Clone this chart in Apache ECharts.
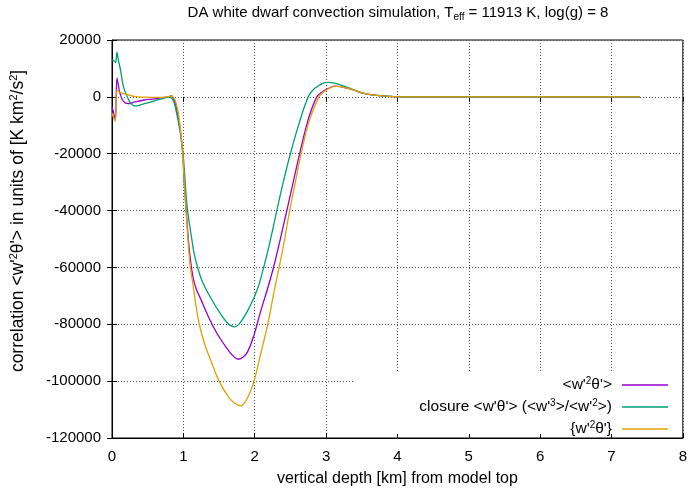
<!DOCTYPE html>
<html><head><meta charset="utf-8">
<script src="https://cdn.jsdelivr.net/npm/echarts@6/dist/echarts.min.js"></script>
<style>html,body{margin:0;padding:0;background:#fff}#c{width:690px;height:492px}</style>
</head><body><div id="c"></div>
<script>
// x ticks and y ticks
const xTicks = [0,1,2,3,4,5,6,7,8];
const yTicks = [20000,0,-20000,-40000,-60000,-80000,-100000,-120000];
const seriesNames = ["<w'2θ'>", "closure <w'θ'> (<w'3>/<w'2>)", "{w'2θ'}"];

// <w'^2 theta'>
const depthPurple = [0,0.025,0.046,0.07,0.09,0.11,0.16,0.23,0.32,0.45,0.56,0.7,0.79,0.83,0.86,0.89,0.92,0.95,0.99,1.01,1.04,1.08,1.11,1.14,1.18,1.25,1.34,1.46,1.62,1.7,1.77,1.84,1.9,1.99,2.08,2.18,2.27,2.35,2.45,2.54,2.63,2.75,2.87,2.95,3.02,3.12,3.2,3.35,3.5,3.65,3.8,3.95,4.1,5,6,7,7.4];
const valuePurple = [-3400,-6000,-8000,6600,4000,1400,-1600,-2400,-1800,-1100,-800,-300,0,400,-500,-2500,-6000,-10500,-19600,-29000,-40000,-53000,-59500,-64000,-67500,-71500,-76700,-82700,-88800,-91200,-92300,-91500,-89700,-83800,-75700,-67500,-59400,-51000,-40000,-30000,-20000,-8000,0,1800,2800,3800,3600,2700,1400,700,350,100,0,0,0,0,0];

// closure
const depthGreen = [0,0.03,0.05,0.07,0.09,0.12,0.16,0.21,0.26,0.32,0.4,0.5,0.65,0.8,0.84,0.87,0.9,0.95,0.99,1.02,1.05,1.1,1.15,1.2,1.27,1.39,1.53,1.63,1.71,1.8,1.94,2.04,2.11,2.2,2.31,2.4,2.5,2.62,2.75,2.82,2.9,2.97,3.03,3.1,3.2,3.35,3.5,3.65,3.8,3.95,4.1,5,6,7,7.4];
const valueGreen = [13000,12600,12100,15600,12800,9400,3600,200,-2200,-3200,-2800,-2100,-1000,-200,-500,-2000,-5000,-11500,-18500,-28000,-38000,-47000,-55000,-60000,-65200,-71000,-76700,-79800,-80900,-79300,-73300,-67500,-61500,-52500,-40000,-30000,-20000,-9500,0,2500,4000,4900,5100,4900,4200,2800,1400,700,300,100,0,0,0,0,0];

// {w'^2 theta'}
const depthOrange = [0,0.025,0.046,0.07,0.1,0.15,0.23,0.32,0.45,0.6,0.75,0.8,0.83,0.86,0.89,0.92,0.95,0.99,1.01,1.04,1.07,1.09,1.11,1.13,1.16,1.2,1.25,1.32,1.41,1.5,1.64,1.72,1.8,1.9,1.99,2.08,2.18,2.27,2.35,2.42,2.49,2.57,2.65,2.77,2.9,2.97,3.03,3.12,3.2,3.35,3.5,3.65,3.8,3.95,4.1,5,6,7,7.4];
const valueOrange = [-5600,-7500,-8600,2400,1800,1200,700,100,-100,-200,-100,200,400,-200,-1500,-4500,-9500,-19600,-29000,-41000,-52000,-58000,-62000,-65200,-70500,-77000,-82700,-88500,-94300,-100000,-105800,-107800,-108700,-105800,-100000,-90800,-80300,-68700,-59000,-50000,-40000,-30000,-20000,-8000,0,1800,2800,3800,3600,2700,1400,700,350,100,0,0,0,0,0];

const colors = ['#9400d3', '#009e73', '#e69f00'];
const FONT = 'Liberation Sans, Arial, sans-serif';
const pair = (xs, ys) => xs.map((x, i) => [x, ys[i]]);

const legendRich = {
  sup: {fontSize: 10, padding: [0,0,8,0], fontFamily: FONT, color: '#000'}
};
const legendLabels = {};
legendLabels[seriesNames[0]] = "<w'{sup|2}θ'>";
legendLabels[seriesNames[1]] = "closure <w'θ'> (<w'{sup|3}>/<w'{sup|2}>)";
legendLabels[seriesNames[2]] = "{w'{sup|2}θ'}";

const chart = echarts.init(document.getElementById('c'), null, {renderer: 'canvas'});

const yMin = yTicks[yTicks.length - 1], yMax = yTicks[0];
const xMin = xTicks[0], xMax = xTicks[xTicks.length - 1];

const baseX = {type: 'value', min: xMin, max: xMax, interval: 1};
const baseY = {type: 'value', min: yMin, max: yMax, interval: 20000};

const legends = seriesNames.map((n, i) => ({
  data: [{name: n, icon: 'rect'}],
  orient: 'vertical',
  right: 22,
  top: 376 + i * 22,
  padding: 0,
  itemWidth: 46,
  itemHeight: 1.5,
  align: 'right',
  selectedMode: false,
  formatter: name => legendLabels[name],
  textStyle: {fontSize: 15.5, fontFamily: FONT, color: '#000', padding: [0,5,0,0], rich: legendRich}
}));

chart.setOption({
  animation: false,
  backgroundColor: '#fff',
  color: colors,
  title: {
    text: 'DA white dwarf convection simulation, T{sub|eff} = 11913 K, log(g) = 8',
    left: 398, top: 4, padding: 0, textAlign: 'center',
    textStyle: {fontSize: 15, fontWeight: 'normal', fontFamily: FONT, color: '#000',
      rich: {sub: {fontSize: 10, padding: [8,0,0,0], fontFamily: FONT, color: '#000'}}}
  },
  grid: {left: 110, right: 4, top: 40, bottom: 52, show: true, borderColor: '#000', borderWidth: 1, backgroundColor: 'transparent'},
  legend: legends,
  graphic: [{
    type: 'rect', z: 1, silent: true,
    shape: {x: 355, y: 372, width: 325, height: 62},
    style: {fill: '#fff'}
  }],
  xAxis: [Object.assign({}, baseX, {
    position: 'bottom',
    name: 'vertical depth [km] from model top', nameLocation: 'middle', nameGap: 33,
    nameTextStyle: {fontSize: 16, fontFamily: FONT, color: '#000'},
    axisLine: {onZero: false, lineStyle: {color: '#000', width: 1}},
    axisTick: {inside: true, length: 5, lineStyle: {color: '#000'}},
    axisLabel: {fontSize: 15, fontFamily: FONT, color: '#000', margin: 11},
    splitLine: {show: true, lineStyle: {color: '#555', type: [1, 2], width: 1}}
  }), Object.assign({}, baseX, {
    position: 'top',
    axisLine: {show: false},
    axisTick: {inside: true, length: 5, lineStyle: {color: '#000'}},
    axisLabel: {show: false},
    splitLine: {show: false}
  })],
  yAxis: [Object.assign({}, baseY, {
    position: 'left',
    name: "correlation <w'{sup|2}θ'> in units of [K km{sup|2}/s{sup|2}]",
    nameLocation: 'middle', nameGap: 84,
    nameTextStyle: {fontSize: 17.5, fontFamily: FONT, color: '#000', padding: [0,0,0,36],
      rich: {sup: {fontSize: 11, padding: [0,0,9,0], fontFamily: FONT, color: '#000'}}},
    axisLine: {onZero: false, lineStyle: {color: '#000', width: 1}},
    axisTick: {inside: true, length: 5, lineStyle: {color: '#000'}},
    axisLabel: {fontSize: 15, fontFamily: FONT, color: '#000', margin: 11, formatter: v => String(v)},
    splitLine: {show: true, lineStyle: {color: '#555', type: [1, 2], width: 1}}
  }), Object.assign({}, baseY, {
    position: 'right',
    axisLine: {show: false},
    axisTick: {inside: true, length: 5, lineStyle: {color: '#000'}},
    axisLabel: {show: false},
    splitLine: {show: false}
  })],
  series: [
    {name: seriesNames[0], type: 'line', data: pair(depthPurple, valuePurple)},
    {name: seriesNames[1], type: 'line', data: pair(depthGreen, valueGreen)},
    {name: seriesNames[2], type: 'line', data: pair(depthOrange, valueOrange)}
  ].map((s, i) => Object.assign(s, {
    xAxisIndex: 0, yAxisIndex: 0,
    symbol: 'none', showSymbol: false, smooth: 0.4,
    z: 3,
    lineStyle: {color: colors[i], width: 1.3},
    itemStyle: {color: colors[i]}
  }))
});
</script></body></html>
